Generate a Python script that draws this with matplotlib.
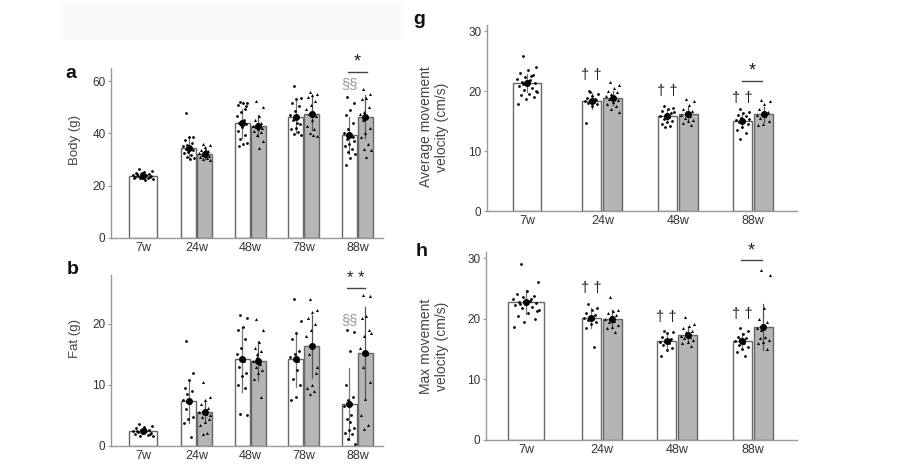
import numpy as np
import matplotlib
matplotlib.use('Agg')
import matplotlib.pyplot as plt
from matplotlib.patches import Rectangle

plt.rcParams['font.family'] = ['Liberation Sans', 'DejaVu Sans']

# ---------------- data ----------------
ages_ab = ['7w', '24w', '48w', '78w', '88w']
ages_gh = ['7w', '24w', '48w', '88w']

# Panel a: body weight (g)
body_mean_w = [23.8, 34.5, 43.8, 46.3, 39.2]
body_sd_w = [1.0, 4.0, 5.5, 6.0, 7.2]
body_mean_g = [np.nan, 32.3, 42.8, 47.6, 46.3]
body_sd_g = [np.nan, 2.0, 4.2, 6.2, 8.2]
body_pts_w = [
    [26.5, 25.8, 25.2, 24.9, 24.6, 24.3, 24.1, 23.9, 23.8, 23.6, 23.4, 23.2, 23.0, 22.8, 22.5, 22.2, 24.5, 23.5, 25.0, 22.9],
    [47.8, 38.8, 38.5, 37.5, 36.2, 35.5, 35.0, 34.5, 34.0, 33.5, 33.0, 32.5, 31.8, 31.0, 30.5, 30.2],
    [52.0, 51.8, 51.5, 51.0, 49.5, 48.0, 46.5, 45.0, 44.0, 43.5, 42.5, 41.0, 39.5, 38.0, 36.5, 35.8, 35.2, 50.5],
    [58.0, 53.5, 53.0, 51.5, 50.5, 48.5, 47.0, 46.0, 45.0, 43.5, 42.0, 41.5, 40.5, 39.8, 39.3, 44.0],
    [54.0, 51.5, 49.0, 47.0, 44.0, 41.5, 40.0, 39.0, 38.0, 37.0, 36.0, 35.0, 34.0, 33.0, 32.0, 30.5, 27.8, 38.5],
]
body_pts_g = [
    [],
    [36.0, 35.5, 34.8, 33.8, 33.2, 32.8, 32.5, 32.2, 31.8, 31.5, 31.2, 30.8, 30.5, 30.2, 29.8, 33.5],
    [52.5, 50.0, 46.5, 45.0, 44.0, 43.5, 43.0, 42.8, 42.5, 42.0, 41.5, 41.0, 40.5, 39.5, 37.0, 34.5],
    [56.0, 55.0, 54.5, 54.0, 52.5, 51.0, 49.5, 48.0, 47.5, 46.5, 45.0, 43.0, 41.5, 40.0, 39.0, 39.5],
    [57.0, 55.0, 53.5, 53.0, 50.0, 48.0, 47.5, 46.5, 45.0, 42.0, 40.0, 38.5, 36.0, 34.0, 33.5, 31.0],
]

# Panel b: fat (g)
fat_mean_w = [2.4, 7.3, 14.2, 14.2, 6.9]
fat_sd_w = [0.5, 3.5, 5.3, 4.5, 5.9]
fat_mean_g = [np.nan, 5.6, 14.0, 16.3, 15.2]
fat_sd_g = [np.nan, 1.9, 3.2, 5.2, 7.5]
fat_pts_w = [
    [3.6, 3.3, 3.1, 2.9, 2.7, 2.6, 2.5, 2.4, 2.3, 2.2, 2.1, 2.0, 1.8, 1.7, 1.6, 2.8, 2.4, 2.0],
    [17.2, 12.0, 10.8, 9.5, 9.0, 8.5, 7.6, 7.0, 6.0, 4.8, 4.5, 3.8, 1.4, 7.2],
    [21.5, 21.0, 19.5, 19.0, 17.5, 16.0, 15.0, 14.0, 13.0, 12.0, 11.5, 10.0, 9.5, 5.3, 5.0],
    [24.0, 20.5, 18.5, 17.5, 15.5, 15.0, 14.5, 12.5, 11.0, 10.0, 8.0, 7.5, 14.0],
    [19.0, 18.7, 15.5, 10.0, 8.0, 7.5, 6.5, 5.0, 4.5, 3.0, 2.6, 2.2, 2.0, 1.2, 0.3, 4.0],
]
fat_pts_g = [
    [],
    [10.5, 8.0, 7.5, 6.8, 6.2, 5.8, 5.5, 5.2, 4.8, 4.5, 4.0, 3.5, 2.2, 2.0, 5.0],
    [20.8, 19.0, 17.0, 16.0, 15.5, 14.5, 14.0, 13.5, 13.0, 12.5, 12.0, 11.0, 8.0, 15.0],
    [24.0, 22.3, 22.0, 21.0, 20.0, 19.0, 18.0, 16.5, 15.0, 12.0, 10.0, 9.5, 9.0, 8.5, 13.0],
    [24.8, 24.5, 21.3, 21.0, 19.0, 18.0, 16.0, 15.0, 13.0, 10.5, 7.7, 5.0, 3.5, 2.8, 18.5],
]

# Panel g: average movement velocity (cm/s)
avg_mean_w = [21.3, 18.3, 15.9, 15.0]
avg_sd_w = [1.5, 1.3, 1.0, 1.2]
avg_mean_g = [np.nan, 18.8, 16.2, 16.1]
avg_sd_g = [np.nan, 1.2, 1.1, 1.3]
avg_pts_w = [
    [25.8, 24.0, 23.5, 23.0, 22.7, 22.3, 22.0, 21.8, 21.5, 21.3, 21.0, 20.8, 20.5, 20.2, 19.8, 19.5, 19.3, 19.0, 18.7, 17.8, 22.5, 21.2, 20.0, 21.7],
    [20.0, 19.5, 19.2, 18.8, 18.5, 18.4, 18.3, 18.2, 18.0, 17.8, 17.5, 14.7, 18.6, 19.8],
    [17.5, 17.2, 17.0, 16.7, 16.3, 16.0, 15.8, 15.6, 15.4, 15.0, 14.8, 14.5, 14.2, 14.0, 16.5],
    [17.0, 16.5, 16.3, 16.0, 15.8, 15.5, 15.2, 15.0, 14.8, 14.5, 14.0, 13.5, 13.0, 12.0, 15.3],
]
avg_pts_g = [
    [],
    [21.5, 21.0, 20.5, 20.0, 19.8, 19.5, 19.2, 19.0, 18.7, 18.5, 18.2, 17.8, 17.5, 17.0, 16.5],
    [18.7, 18.3, 17.7, 17.0, 16.7, 16.3, 16.0, 15.8, 15.5, 15.2, 15.0, 14.7, 14.3, 16.5],
    [18.5, 18.3, 17.8, 17.0, 16.5, 16.2, 16.0, 15.8, 15.5, 15.0, 14.5, 14.3, 16.3],
]

# Panel h: max movement velocity (cm/s)
max_mean_w = [22.7, 20.1, 16.4, 16.3]
max_sd_w = [2.0, 1.6, 1.2, 1.3]
max_mean_g = [np.nan, 19.9, 17.3, 18.6]
max_sd_g = [np.nan, 1.5, 1.3, 3.8]
max_pts_w = [
    [29.0, 26.0, 24.5, 24.0, 23.8, 23.5, 23.2, 23.0, 22.8, 22.6, 22.4, 22.2, 22.0, 21.8, 21.5, 21.0, 20.5, 20.0, 19.5, 18.6, 23.3, 22.5, 21.2],
    [22.5, 21.8, 21.5, 21.0, 20.6, 20.3, 20.1, 20.0, 19.8, 19.5, 19.2, 18.5, 15.3, 20.2],
    [18.0, 17.8, 17.6, 17.0, 16.6, 16.4, 16.2, 16.0, 15.6, 15.2, 14.8, 13.8, 16.5],
    [18.5, 18.0, 17.5, 17.0, 16.8, 16.5, 16.3, 16.0, 15.7, 15.3, 15.0, 14.5, 13.8, 16.7],
]
max_pts_g = [
    [],
    [23.5, 21.5, 21.2, 21.0, 20.6, 20.2, 20.0, 19.7, 19.4, 19.0, 18.7, 18.4, 17.8],
    [20.3, 19.2, 18.8, 18.5, 18.0, 17.5, 17.2, 17.0, 16.8, 16.5, 16.2, 16.0, 15.5, 17.8],
    [28.0, 27.2, 21.8, 20.0, 19.5, 19.0, 18.5, 17.0, 16.8, 16.5, 16.2, 16.0, 15.0, 18.2],
]

# ---------------- drawing ----------------
W, H = 898, 474
fig = plt.figure(figsize=(W / 100, H / 100), dpi=100)
fig.patch.set_facecolor('white')
fig.add_artist(Rectangle((60 / W, 1 - 40 / H), 343 / W, 37 / H, transform=fig.transFigure,
                         facecolor='#fafafa', edgecolor='none', zorder=0))

GRAY = '#b5b5b5'
EDGE = '#666666'
TXT = '#333333'


def ax_px(l, r, b, t):
    return fig.add_axes([l / W, 1 - b / H, (r - l) / W, (b - t) / H])


def jitter(n, width):
    idx = np.arange(n)
    return ((idx * 0.6180339887 + 0.31) % 1.0 - 0.5) * width


def panel(ax, labels, mw, sw, pw, mg, sg, pg, single_w, pair_w, pair_off, xlim, ylim, yticks):
    x = np.arange(len(labels))
    for i in range(len(labels)):
        if np.isnan(mg[i]):
            cw, bw = x[i], single_w
        else:
            cw, bw = x[i] - pair_off, pair_w
        ax.bar(cw, mw[i], width=bw, color='white', edgecolor=EDGE, linewidth=1.0, zorder=2)
        ax.plot([cw, cw], [mw[i] - sw[i], mw[i] + sw[i]], color='#777777', lw=0.9, zorder=3)
        pts = np.array(pw[i])
        ax.plot(cw + jitter(len(pts), bw * 0.75), pts, 'o', ms=2.0, color='black', mec='none', zorder=4)
        ax.plot([cw], [mw[i]], 'o', ms=4.0, color='black', zorder=5)
        if not np.isnan(mg[i]):
            cg = x[i] + pair_off
            ax.bar(cg, mg[i], width=pair_w, color=GRAY, edgecolor=EDGE, linewidth=1.0, zorder=2)
            ax.plot([cg, cg], [mg[i] - sg[i], mg[i] + sg[i]], color='#555555', lw=0.9, zorder=3)
            pts = np.array(pg[i])
            ax.plot(cg + jitter(len(pts), pair_w * 0.75), pts, '^', ms=2.2, color='black', mec='none', zorder=4)
            ax.plot([cg], [mg[i]], 'o', ms=4.0, color='black', zorder=5)
    ax.set_xlim(*xlim)
    ax.set_ylim(*ylim)
    ax.set_xticks(x)
    ax.set_xticklabels(labels)
    ax.set_yticks(yticks)
    for s in ['top', 'right']:
        ax.spines[s].set_visible(False)
    for s in ['left', 'bottom']:
        ax.spines[s].set_color('#999999')
        ax.spines[s].set_linewidth(1.0)
    ax.tick_params(axis='y', length=2, color='#999999', labelcolor=TXT, labelsize=8.5, pad=2)
    ax.tick_params(axis='x', length=0, labelcolor=TXT, labelsize=9, pad=3)
    ax.set_facecolor('none')


def sig(ax, xc, half, y_line, y_star, star, fs=13):
    ax.plot([xc - half, xc + half], [y_line, y_line], color='#444444', lw=1.0, clip_on=False)
    ax.text(xc, y_star, star, ha='center', va='center', fontsize=fs, color='#222222', clip_on=False)


# a
ax_a = ax_px(111, 383, 238, 68)
off_ab = 0.15
panel(ax_a, ages_ab, body_mean_w, body_sd_w, body_pts_w, body_mean_g, body_sd_g, body_pts_g,
      0.523, 0.28, off_ab, (-0.598, 4.477), (0, 65), [0, 20, 40, 60])
sig(ax_a, 4.0, 0.17, 63.3, 67.2, '*')
ax_a.text(4 - off_ab, 58.8, '§§', ha='center', va='center', fontsize=10.5, color='#999999')

# b
ax_b = ax_px(111, 383, 446, 275)
panel(ax_b, ages_ab, fat_mean_w, fat_sd_w, fat_pts_w, fat_mean_g, fat_sd_g, fat_pts_g,
      0.523, 0.28, off_ab, (-0.598, 4.477), (0, 28), [0, 10, 20])
sig(ax_b, 3.97, 0.17, 25.8, 27.4, '* *', fs=12)
ax_b.text(4 - off_ab, 20.6, '§§', ha='center', va='center', fontsize=10.5, color='#999999')

# g
ax_g = ax_px(487, 797, 211, 25)
off_gh = 0.14
panel(ax_g, ages_gh, avg_mean_w, avg_sd_w, avg_pts_w, avg_mean_g, avg_sd_g, avg_pts_g,
      0.37, 0.25, off_gh, (-0.531, 3.584), (0, 31), [0, 10, 20, 30])
sig(ax_g, 2.99, 0.135, 21.7, 23.4, '*')
for xi, yv in [(1, 22.6), (2, 20.0), (3, 18.9)]:
    ax_g.text(xi - off_gh, yv, '† †', ha='center', va='center', fontsize=10.5, color='#222222')

# h
ax_h = ax_px(486, 797, 440, 252)
panel(ax_h, ages_gh, max_mean_w, max_sd_w, max_pts_w, max_mean_g, max_sd_g, max_pts_g,
      0.48, 0.25, off_gh, (-0.531, 3.584), (0, 31), [0, 10, 20, 30])
sig(ax_h, 2.98, 0.135, 29.7, 31.2, '*')
for xi, yv in [(1, 25.0), (2, 20.3), (3, 20.7)]:
    ax_h.text(xi - off_gh, yv, '† †', ha='center', va='center', fontsize=10.5, color='#222222')

# y labels
fig.text(75 / W, 1 - 140 / H, 'Body (g)', rotation=90, ha='center', va='center', fontsize=9.5, color='#444444')
fig.text(75 / W, 1 - 339 / H, 'Fat (g)', rotation=90, ha='center', va='center', fontsize=9.5, color='#444444')
fig.text(434 / W, 1 - 127 / H, 'Average movement\nvelocity (cm/s)', rotation=90, ha='center', va='center',
         fontsize=10, color='#444444', linespacing=1.15)
fig.text(434 / W, 1 - 346 / H, 'Max movement\nvelocity (cm/s)', rotation=90, ha='center', va='center',
         fontsize=10, color='#444444', linespacing=1.15)

# panel letters
for lab, xp, yp in [('a', 71, 73), ('b', 73, 270), ('g', 419, 19), ('h', 422, 251)]:
    fig.text(xp / W, 1 - yp / H, lab, ha='center', va='center', fontsize=14, fontweight='bold', color='#111111')

fig.savefig('out.png', dpi=100)
